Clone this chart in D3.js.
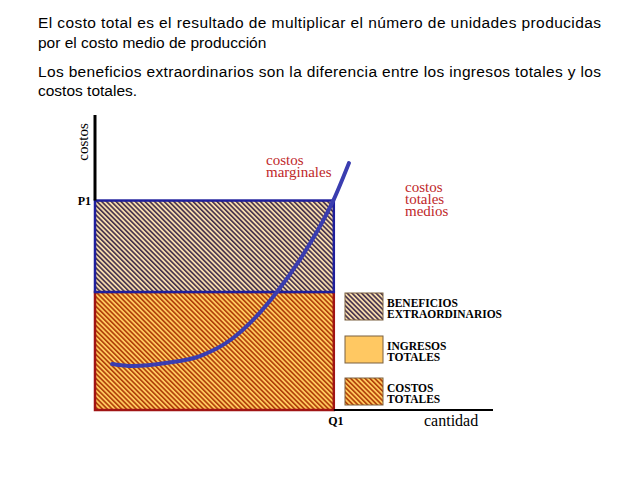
<!DOCTYPE html>
<html lang="es">
<head>
<meta charset="UTF-8">
<script src="https://cdn.jsdelivr.net/npm/d3@7"></script>
<style>
  body {margin: 0; background: #fff;}
  svg {display: block;}
</style>
</head>
<body>
<svg class="chart"></svg>
<script>
// --- data (units: 0..100 on both axes) ---
const introLines = [
  "El costo total es el resultado de multiplicar el número de unidades producidas",
  "por el costo medio de producción",
  "Los beneficios extraordinarios son la diferencia entre los ingresos totales y los",
  "costos totales."
];
const mcX = [4.3, 9.5, 18.1, 26.4, 34.7, 40.2, 45.7, 51.5, 56.0, 59.8, 63.8];
const mcY = [15.6, 14.9, 16.0, 18.3, 24.4, 31.2, 40.0, 51.0, 61.0, 70.8, 83.7];
const q1 = 60;          // quantity produced
const p1 = 71;          // price
const avgCost = 40;     // average total cost at Q1
const legendLabels = [["BENEFICIOS", "EXTRAORDINARIOS"], ["INGRESOS", "TOTALES"], ["COSTOS", "TOTALES"]];
const legendFills = ["url(#hatchBen)", "#ffc862", "url(#hatchCost)"];

const width = 638, height = 478;
const svg = d3.select(".chart").attr("width", width).attr("height", height);

const x = d3.scaleLinear().domain([0, 100]).range([95, 493]);
const y = d3.scaleLinear().domain([0, 100]).range([410, 115]);

// hatch patterns
const defs = svg.append("defs");
function hatch(id, dark, light) {
  const p = defs.append("pattern")
    .attr("id", id)
    .attr("patternUnits", "userSpaceOnUse")
    .attr("width", 3.4).attr("height", 10)
    .attr("patternTransform", "rotate(-45)");
  p.append("rect").attr("width", 3.4).attr("height", 10).attr("fill", light);
  p.append("rect").attr("width", 1.6).attr("height", 10).attr("fill", dark);
}
hatch("hatchBen", "#45304a", "#f6dcae");
hatch("hatchCost", "#b03e08", "#ffc95e");

// intro text, justified lines
const intro = svg.append("g")
  .attr("font-family", "Liberation Sans, Arial, sans-serif")
  .attr("font-size", 15.5)
  .attr("fill", "#000");
const introY = [28, 48, 77, 96];
introLines.forEach((t, i) => {
  const tx = intro.append("text").attr("x", 38).attr("y", introY[i]).text(t);
  if (i === 0 || i === 2) tx.attr("textLength", 563).attr("lengthAdjust", "spacing");
});

// lower rectangle: total cost
svg.append("rect")
  .attr("x", x(0)).attr("y", y(avgCost))
  .attr("width", x(q1) - x(0)).attr("height", y(0) - y(avgCost))
  .attr("fill", "url(#hatchCost)")
  .attr("stroke", "#a01414").attr("stroke-width", 2.5);

// upper rectangle: extra profit
svg.append("rect")
  .attr("x", x(0)).attr("y", y(p1))
  .attr("width", x(q1) - x(0)).attr("height", y(avgCost) - y(p1))
  .attr("fill", "url(#hatchBen)")
  .attr("stroke", "#1f1f9c").attr("stroke-width", 2.5);

// axes
svg.append("line")
  .attr("x1", x(0)).attr("x2", x(0)).attr("y1", y(100)).attr("y2", y(p1))
  .attr("stroke", "#000").attr("stroke-width", 3);
svg.append("line")
  .attr("x1", x(q1)).attr("x2", x(100)).attr("y1", y(0)).attr("y2", y(0))
  .attr("stroke", "#000").attr("stroke-width", 2);

// marginal cost curve
const line = d3.line()
  .x((d, i) => x(mcX[i]))
  .y(d => y(d))
  .curve(d3.curveMonotoneX);
svg.append("path")
  .attr("d", line(mcY))
  .attr("fill", "none")
  .attr("stroke", "#3a3db0")
  .attr("stroke-width", 4)
  .attr("stroke-linecap", "round");

// axis labels
const serif = "Liberation Serif, Times New Roman, serif";
svg.append("text")
  .attr("transform", `translate(88,142) rotate(-90)`)
  .attr("text-anchor", "middle")
  .attr("font-family", serif).attr("font-size", 15)
  .text("costos");
svg.append("text")
  .attr("x", 424).attr("y", 426)
  .attr("font-family", serif).attr("font-size", 16)
  .text("cantidad");
svg.append("text")
  .attr("x", 91).attr("y", y(p1) + 4).attr("text-anchor", "end")
  .attr("font-family", serif).attr("font-size", 12).attr("font-weight", "bold")
  .text("P1");
svg.append("text")
  .attr("x", x(q1) + 2).attr("y", 425).attr("text-anchor", "middle")
  .attr("font-family", serif).attr("font-size", 12).attr("font-weight", "bold")
  .text("Q1");

// curve labels
function redLabel(lines, x0, y0) {
  const t = svg.append("text")
    .attr("font-family", serif).attr("font-size", 15).attr("fill", "#c0282a");
  lines.forEach((s, i) => t.append("tspan").attr("x", x0).attr("y", y0 + i * 12).text(s));
}
redLabel(["costos", "marginales"], 266, 165);
redLabel(["costos", "totales", "medios"], 405, 192);

// legend
const legY = [293, 336, 378];
legendLabels.forEach((lab, i) => {
  svg.append("rect")
    .attr("x", 345).attr("y", legY[i]).attr("width", 38).attr("height", 27)
    .attr("fill", legendFills[i])
    .attr("stroke", "#7a6040").attr("stroke-width", 1);
  const t = svg.append("text")
    .attr("font-family", serif).attr("font-size", 11.5).attr("font-weight", "bold");
  lab.forEach((s, j) => t.append("tspan").attr("x", 387).attr("y", legY[i] + 14 + j * 10.5).text(s));
});
</script>
</body>
</html>
